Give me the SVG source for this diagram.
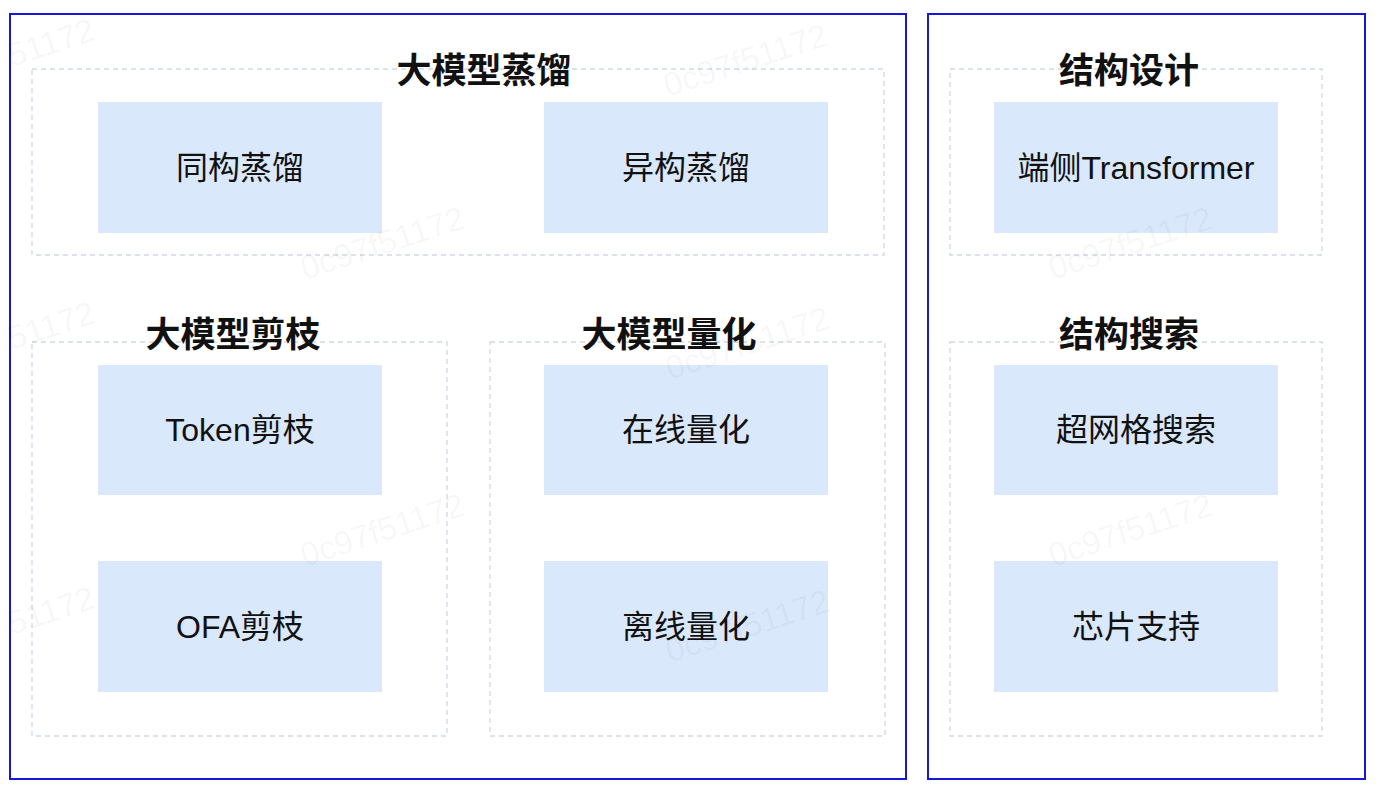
<svg xmlns="http://www.w3.org/2000/svg" width="1380" height="794" viewBox="0 0 1380 794">
<style>
.outer{fill:none;stroke:#1717d8;stroke-width:2}
.group{fill:none;stroke:#cfd9e4;stroke-width:1.3;stroke-dasharray:5 4}
.node rect{fill:#dae8fc;stroke:none}
.node text{font-family:"Liberation Sans","Noto Sans CJK SC",sans-serif;font-size:32px;fill:#111;text-anchor:middle;dominant-baseline:central}
.title{font-family:"Noto Sans CJK SC",sans-serif;font-size:35px;font-weight:bold;fill:#111;text-anchor:middle;dominant-baseline:central}
.wm{font-family:"Liberation Sans",sans-serif;font-size:33px;fill:#000;fill-opacity:0.045}
</style>
<rect fill="#ffffff" x="0" y="0" width="1380" height="794"/>

<g id="panel-left">
<rect class="outer" x="10" y="14" width="896" height="765"/>
</g>
<g id="panel-right">
<rect class="outer" x="928" y="14" width="437" height="765"/>
</g>

<g id="group-distill">
<rect class="group" x="32" y="69" width="852" height="186"/>
<text class="title" x="484" y="67">大模型蒸馏</text>
</g>
<g id="group-prune">
<rect class="group" x="32" y="342" width="415" height="394"/>
<text class="title" x="233" y="331">大模型剪枝</text>
</g>
<g id="group-quant">
<rect class="group" x="490" y="342" width="395" height="394"/>
<text class="title" x="669" y="331">大模型量化</text>
</g>
<g id="group-design">
<rect class="group" x="950" y="69" width="372" height="186"/>
<text class="title" x="1129" y="67">结构设计</text>
</g>
<g id="group-search">
<rect class="group" x="950" y="342" width="372" height="394"/>
<text class="title" x="1129" y="331">结构搜索</text>
</g>

<g id="node-homo" class="node"><rect x="98" y="102" width="284" height="131"/><text x="240" y="167.5">同构蒸馏</text></g>
<g id="node-hetero" class="node"><rect x="544" y="102" width="284" height="131"/><text x="686" y="167.5">异构蒸馏</text></g>
<g id="node-token" class="node"><rect x="98" y="365" width="284" height="130"/><text x="240" y="430">Token剪枝</text></g>
<g id="node-ofa" class="node"><rect x="98" y="561" width="284" height="131"/><text x="240" y="626.5">OFA剪枝</text></g>
<g id="node-online" class="node"><rect x="544" y="365" width="284" height="130"/><text x="686" y="430">在线量化</text></g>
<g id="node-offline" class="node"><rect x="544" y="561" width="284" height="131"/><text x="686" y="626.5">离线量化</text></g>
<g id="node-transformer" class="node"><rect x="994" y="102" width="284" height="131"/><text x="1136" y="167.5">端侧Transformer</text></g>
<g id="node-supernet" class="node"><rect x="994" y="365" width="284" height="130"/><text x="1136" y="430">超网格搜索</text></g>
<g id="node-chip" class="node"><rect x="994" y="561" width="284" height="131"/><text x="1136" y="626.5">芯片支持</text></g>

<g id="connectors"></g>

<g id="watermark">
<text class="wm" transform="translate(12,67) rotate(-18)">51172</text>
<text class="wm" transform="translate(668,97) rotate(-18)">0c97f51172</text>
<text class="wm" transform="translate(305,280) rotate(-18)">0c97f51172</text>
<text class="wm" transform="translate(1053,280) rotate(-18)">0c97f51172</text>
<text class="wm" transform="translate(12,350) rotate(-18)">51172</text>
<text class="wm" transform="translate(670,380) rotate(-18)">0c97f51172</text>
<text class="wm" transform="translate(305,567) rotate(-18)">0c97f51172</text>
<text class="wm" transform="translate(1053,567) rotate(-18)">0c97f51172</text>
<text class="wm" transform="translate(12,635) rotate(-18)">51172</text>
<text class="wm" transform="translate(670,663) rotate(-18)">0c97f51172</text>
</g>
</svg>
